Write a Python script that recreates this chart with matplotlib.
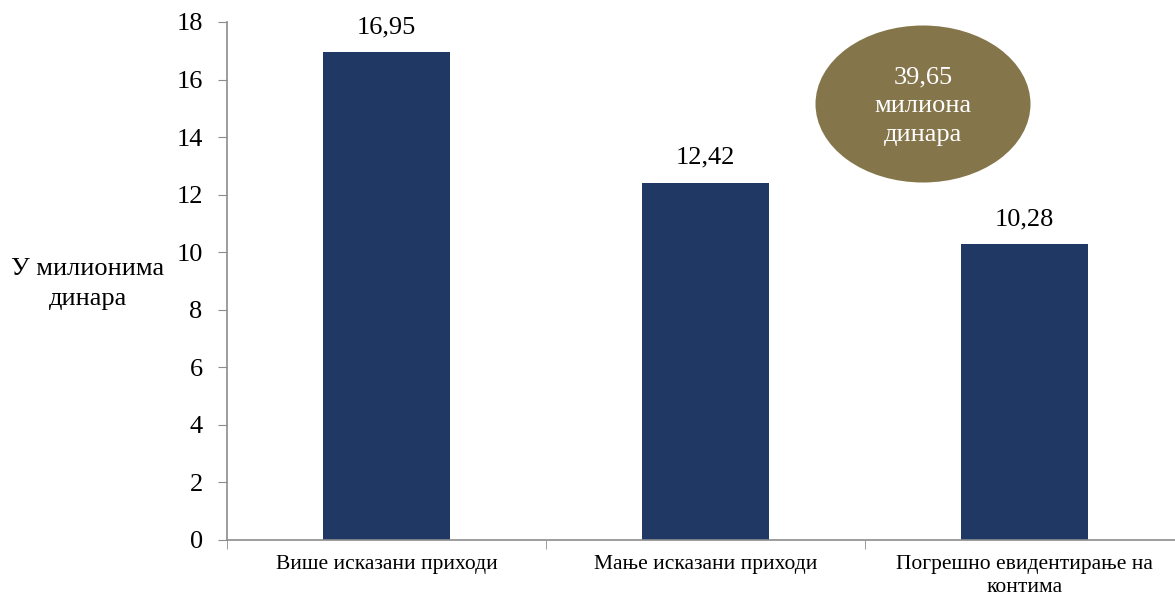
import matplotlib.pyplot as plt
from matplotlib.patches import Ellipse
import numpy as np

plt.rcParams['font.family'] = ['Liberation Serif', 'DejaVu Serif']

categories = ['Више исказани приходи', 'Мање исказани приходи',
              'Погрешно евидентирање на\nконтима']
values = [16.95, 12.42, 10.28]
total_label = '39,65\nмилиона\nдинара'

fig = plt.figure(figsize=(11.75, 5.97), dpi=100)
# axes spans past the right edge of the figure
ax = fig.add_axes([227 / 1175, 1 - 540 / 597, 957 / 1175, 518 / 597])

x = np.arange(len(categories))
bars = ax.bar(x, values, width=0.40, color='#1F3864', zorder=2)

labels = [f'{v:.2f}'.replace('.', ',') for v in values]
ax.bar_label(bars, labels=labels, padding=10, fontsize=19)

ax.set_xlim(-0.5, len(categories) - 0.5)
ax.set_ylim(0, 18)
ax.set_yticks(np.arange(0, 19, 2))
ax.tick_params(axis='y', labelsize=19, length=6.5, color='#8C8C8C', pad=11)

# category ticks sit on the boundaries between groups
ax.set_xticks(x)
ax.set_xticklabels(categories, fontsize=15.5, linespacing=1.3)
ax.tick_params(axis='x', length=0, pad=11)
ax.set_xticks(np.arange(-0.5, len(categories), 1), minor=True)
ax.tick_params(axis='x', which='minor', length=6.5, color='#8C8C8C')

for side in ['top', 'right']:
    ax.spines[side].set_visible(False)
for side in ['left', 'bottom']:
    ax.spines[side].set_color('#8C8C8C')
    ax.spines[side].set_linewidth(1.2)

fig.text(88 / 1175, 1 - 284 / 597, 'У милионима\nдинара', fontsize=19,
         ha='center', va='center', linespacing=1.45)

# total amount bubble
ell = Ellipse((923 / 1175, 1 - 104 / 597), 215 / 1175, 157 / 597,
              transform=fig.transFigure, facecolor='#85754A', edgecolor='none')
fig.patches.append(ell)
fig.text(923 / 1175, 1 - 106 / 597, total_label, fontsize=19, color='white',
         ha='center', va='center', linespacing=1.4)

fig.savefig('out.png', dpi=100)
